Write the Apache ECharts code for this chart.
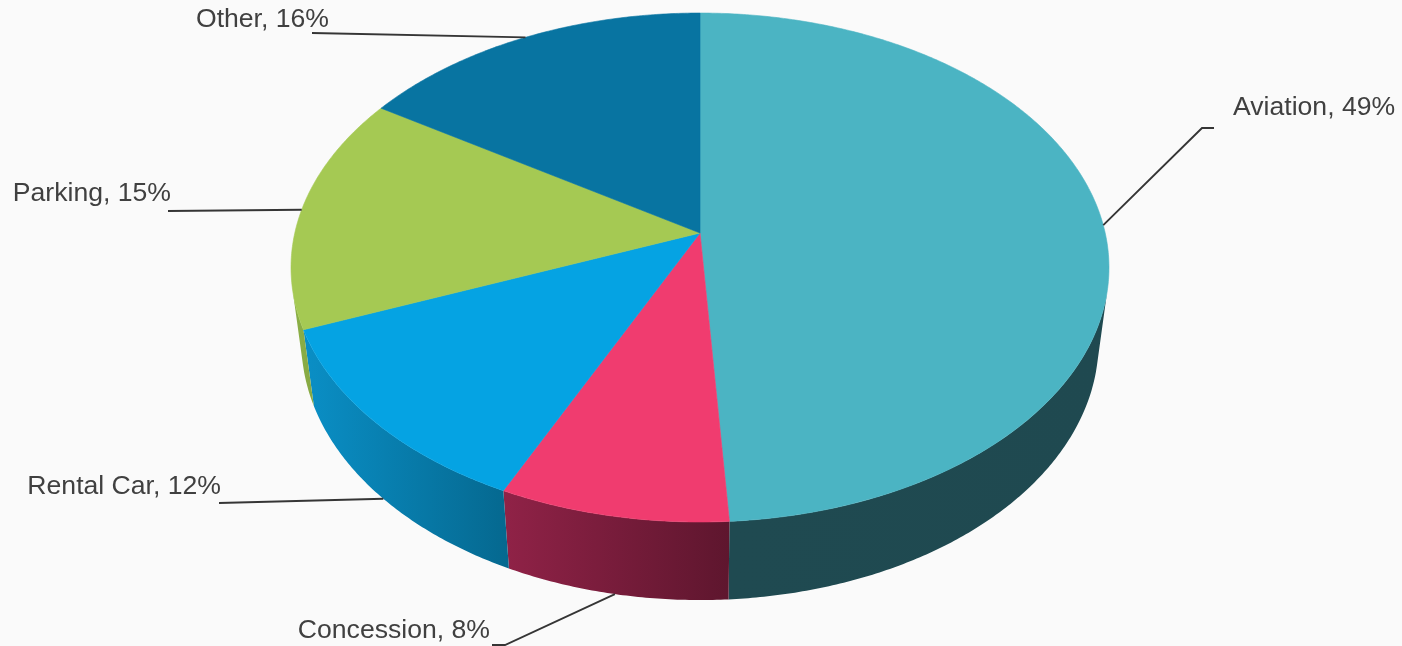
<!DOCTYPE html>
<html>
<head>
<meta charset="utf-8">
<title>Revenue by Source</title>
<script src="https://cdn.jsdelivr.net/npm/echarts@6/dist/echarts.min.js"></script>
<style>
  html, body { margin: 0; padding: 0; background: #fafafa; }
  #chart { width: 1402px; height: 646px; }
</style>
</head>
<body>
<div id="chart"></div>
<script>
// Revenue share by source
const categories = ['Aviation', 'Concession', 'Rental Car', 'Parking', 'Other'];
const shares = [49, 8, 12, 15, 16];

// Slice colours: top face, and side wall gradient (left -> right)
const topColors = ['#4bb4c3', '#f03c6f', '#05a3e3', '#a5c953', '#0874a1'];
const wallColors = [
  ['#1f4a51', '#1f4950'],
  ['#902247', '#5e162e'],
  ['#0a8fc6', '#05688f'],
  ['#8cb046', '#86a843'],
  ['#065d80', '#065d80']
];

// Label placement: text anchor point, alignment, and leader points near the text
const labelLayout = [
  { at: [1233, 108], align: 'left',  lead: [[1214, 128], [1202, 128]] },
  { at: [490, 631],  align: 'right', lead: [[492, 645], [505, 645]] },
  { at: [221, 487],  align: 'right', lead: [[219, 503]] },
  { at: [171, 194],  align: 'right', lead: [[168, 211]] },
  { at: [329, 20],   align: 'right', lead: [[312, 33]] }
];

// Perspective view of a unit-radius disc: centre on screen, focal length,
// camera distance (in radii), tilt (sin), and disc thickness (in radii)
const view = { cx: 700, cy: 233, f: 2352.6, dist: 5.806, sinA: 0.6165, thick: 0.2409 };
view.cosA = Math.sqrt(1 - view.sinA * view.sinA);

// theta in degrees, clockwise from the far side; h = 0 for top rim, -thick for bottom
function project(thetaDeg, h) {
  const t = thetaDeg * Math.PI / 180;
  const u = Math.sin(t), v = Math.cos(t);
  const depth = view.dist + v * view.cosA - h * view.sinA;
  const yc = h * view.cosA + v * view.sinA;
  return [view.cx + view.f * u / depth, view.cy - view.f * yc / depth];
}

function arc(a0, a1, h) {
  const pts = [];
  const n = Math.max(2, Math.ceil(Math.abs(a1 - a0) / 0.5));
  for (let i = 0; i <= n; i++) pts.push(project(a0 + (a1 - a0) * i / n, h));
  return pts;
}

const total = shares.reduce((s, v) => s + v, 0);
let acc = 0;
const sliceData = shares.map((v, i) => {
  const item = [acc, v, i];
  acc += v;
  return item;
});

// Walls facing the camera lie where cos(theta) < -1/(dist*cos(tilt))
const visLimit = Math.acos(-1 / (view.dist * view.cosA)) * 180 / Math.PI;
const visRange = [visLimit, 360 - visLimit];

function angles(api) {
  const start = api.value(0), size = api.value(1);
  return [start / total * 360, (start + size) / total * 360];
}

function renderWall(params, api) {
  const [a0, a1] = angles(api);
  const idx = api.value(2);
  const lo = Math.max(a0, visRange[0]), hi = Math.min(a1, visRange[1]);
  if (!(hi > lo)) return { type: 'group', children: [] };
  const pts = arc(lo, hi, 0).concat(arc(hi, lo, -view.thick));
  const xs = pts.map(p => p[0]);
  const x0 = Math.min(...xs), x1 = Math.max(...xs);
  return {
    type: 'polygon',
    shape: { points: pts },
    style: {
      fill: new echarts.graphic.LinearGradient(x0, 0, x1, 0, [
        { offset: 0, color: wallColors[idx][0] },
        { offset: 1, color: wallColors[idx][1] }
      ], true),
      stroke: null
    }
  };
}

function renderTop(params, api) {
  const [a0, a1] = angles(api);
  const idx = api.value(2);
  const pts = [[view.cx, view.cy]].concat(arc(a0, a1, 0));
  return {
    type: 'polygon',
    shape: { points: pts },
    style: { fill: topColors[idx], stroke: topColors[idx], lineWidth: 0.6 }
  };
}

function renderLabel(params, api) {
  const [a0, a1] = angles(api);
  const idx = api.value(2);
  const mid = (a0 + a1) / 2;
  const front = Math.cos(mid * Math.PI / 180) < 0;
  const anchor = project(mid, front ? -view.thick : 0);
  const lay = labelLayout[idx];
  return {
    type: 'group',
    children: [
      {
        type: 'polyline',
        shape: { points: lay.lead.concat([anchor]) },
        style: { stroke: '#353535', lineWidth: 1.9, fill: null }
      },
      {
        type: 'text',
        style: {
          text: categories[idx] + ', ' + shares[idx] + '%',
          x: lay.at[0], y: lay.at[1],
          align: lay.align, verticalAlign: 'middle',
          fill: '#404040',
          font: '26.6px "Liberation Sans", Arial, sans-serif'
        }
      }
    ]
  };
}

const chart = echarts.init(document.getElementById('chart'), null, { renderer: 'canvas' });
chart.setOption({
  backgroundColor: '#fafafa',
  animation: false,
  series: [
    { type: 'custom', coordinateSystem: 'none', silent: true, z: 1, renderItem: renderWall, data: sliceData },
    { type: 'custom', coordinateSystem: 'none', silent: true, z: 2, renderItem: renderTop, data: sliceData },
    { type: 'custom', coordinateSystem: 'none', silent: true, z: 3, renderItem: renderLabel, data: sliceData }
  ]
});
</script>
</body>
</html>
